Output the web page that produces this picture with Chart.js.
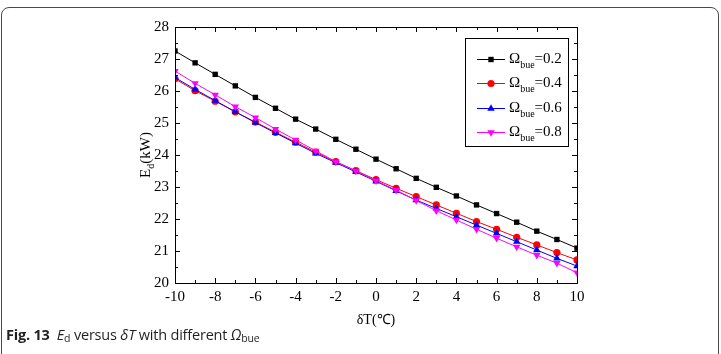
<!DOCTYPE html>
<html><head><meta charset="utf-8">
<script src="https://cdn.jsdelivr.net/npm/chart.js@4/dist/chart.umd.min.js"></script>
<style>
html,body{margin:0;padding:0;background:#fff;}
#wrap{position:relative;width:721px;height:354px;overflow:hidden;}
#frame{position:absolute;left:1px;top:7px;width:716px;height:400px;border:1.3px solid #4a4a4a;border-radius:8px;}
#c{position:absolute;left:0;top:0;}
#cap{position:absolute;left:6px;top:325px;font-family:"Open Sans","Noto Sans",sans-serif;font-size:14.5px;color:#231f20;letter-spacing:-0.2px;white-space:nowrap;}
#cap b{font-weight:700;}
#cap sub{font-size:10.5px;vertical-align:-2px;}
</style></head>
<body><div id="wrap"><div id="frame"></div><canvas id="c" width="721" height="354"></canvas>
<div id="cap"><b>Fig. 13</b>&nbsp; <i>E</i><sub>d</sub> versus <i>δT</i> with different <i>Ω</i><sub>bue</sub></div></div>
<script>
const deltaT = [-10,-9,-8,-7,-6,-5,-4,-3,-2,-1,0,1,2,3,4,5,6,7,8,9,10];
const omegaLabels = ["0.2","0.4","0.6","0.8"];
const ed02 = [27.25,26.88,26.52,26.16,25.80,25.46,25.12,24.81,24.49,24.18,23.87,23.57,23.27,22.99,22.72,22.44,22.17,21.90,21.62,21.36,21.09];
const ed04 = [26.38,26.01,25.68,25.35,25.03,24.71,24.40,24.09,23.79,23.51,23.23,22.96,22.70,22.44,22.18,21.92,21.68,21.43,21.19,20.95,20.72];
const ed06 = [26.42,26.05,25.70,25.35,25.01,24.69,24.37,24.05,23.76,23.47,23.18,22.88,22.59,22.33,22.07,21.81,21.55,21.29,21.03,20.77,20.53];
const ed08 = [26.62,26.24,25.88,25.51,25.17,24.81,24.47,24.13,23.79,23.50,23.20,22.90,22.58,22.26,21.97,21.68,21.40,21.13,20.87,20.62,20.32];
const xTicks = [-10,-8,-6,-4,-2,0,2,4,6,8,10];
const yTicks = [20,21,22,23,24,25,26,27,28];

const series = [ed02, ed04, ed06, ed08];
const colors = ['#000000','#ff0000','#0000ff','#ff00ff'];
const styles = ['rect','circle','triangle','triangle'];
const rots = [0,0,0,180];
const radii = [3.8,3.6,4.3,4.3];

const datasets = series.map((s,i)=>({
  label: 'Ωbue=' + omegaLabels[i],
  data: deltaT.map((x,j)=>({x:x, y:s[j]})),
  borderColor: colors[i], backgroundColor: colors[i],
  borderWidth: 1, pointStyle: styles[i], pointRotation: rots[i],
  pointRadius: radii[i], pointBorderWidth: 0, tension: 0,
  order: series.length - 1 - i
}));

const SERIF = '"Liberation Serif","Times New Roman",serif';

const framePlugin = {
  id: 'framePlugin',
  afterDraw(chart){
    const ctx = chart.ctx, a = chart.chartArea;
    const xs = chart.scales.x, ys = chart.scales.y;
    ctx.save();
    ctx.strokeStyle = '#000'; ctx.lineWidth = 1;
    ctx.strokeRect(Math.round(a.left)+0.5, Math.round(a.top)+0.5, Math.round(a.right-a.left), Math.round(a.bottom-a.top));
    ctx.beginPath();
    for (let v=-10; v<=10; v+=1){
      const px = Math.round(xs.getPixelForValue(v))+0.5;
      const L = (v%2===0)?5:3;
      ctx.moveTo(px,a.bottom); ctx.lineTo(px,a.bottom-L);
      ctx.moveTo(px,a.top); ctx.lineTo(px,a.top+L);
    }
    for (let v=20; v<=28; v+=0.5){
      const py = Math.round(ys.getPixelForValue(v))+0.5;
      const L = (Number.isInteger(v))?5:3;
      ctx.moveTo(a.left,py); ctx.lineTo(a.left+L,py);
      ctx.moveTo(a.right,py); ctx.lineTo(a.right-L,py);
    }
    ctx.stroke();

    // y title
    ctx.fillStyle = '#000';
    ctx.translate(146, (a.top+a.bottom)/2);
    ctx.rotate(-Math.PI/2);
    ctx.textBaseline = 'middle';
    ctx.font = '15px ' + SERIF;
    const w1 = ctx.measureText('E').width;
    ctx.font = '10px ' + SERIF;
    const w2 = ctx.measureText('d').width;
    ctx.font = '15px ' + SERIF;
    const w3 = ctx.measureText('(kW)').width;
    let x0 = -(w1+w2+w3)/2;
    ctx.textAlign='left';
    ctx.fillText('E', x0, 0);
    ctx.font = '10px ' + SERIF;
    ctx.fillText('d', x0+w1, 5);
    ctx.font = '15px ' + SERIF;
    ctx.fillText('(kW)', x0+w1+w2, 0);
    ctx.restore();

    // legend
    ctx.save();
    ctx.strokeStyle = '#000'; ctx.lineWidth = 1;
    ctx.strokeRect(465.5, 38.5, 103, 108);
    const ys2 = [59, 83, 108, 132];
    datasets.forEach((d,i)=>{
      const y = ys2[i];
      ctx.strokeStyle = d.borderColor; ctx.lineWidth = 1;
      ctx.beginPath(); ctx.moveTo(477,y+0.5); ctx.lineTo(505,y+0.5); ctx.stroke();
      ctx.fillStyle = d.backgroundColor;
      Chart.helpers.drawPoint(ctx, {pointStyle:d.pointStyle, rotation:d.pointRotation, radius:d.pointRadius, borderWidth:0}, 491, y+0.5);
      ctx.fillStyle = '#000';
      ctx.textBaseline = 'middle'; ctx.textAlign = 'left';
      ctx.font = '15px ' + SERIF;
      ctx.fillText('Ω', 509, y);
      const wo = ctx.measureText('Ω').width;
      ctx.font = '10px ' + SERIF;
      ctx.fillText('bue', 509+wo, y+6);
      const wb = ctx.measureText('bue').width;
      ctx.font = '15px ' + SERIF;
      ctx.fillText('=' + omegaLabels[i], 509+wo+wb, y);
    });
    ctx.restore();
  }
};

new Chart(document.getElementById('c'), {
  type: 'line',
  data: { datasets },
  options: {
    responsive: false, animation: false,
    layout: { padding: { left: 0, top: 27, right: 144, bottom: 0 } },
    plugins: { legend: { display: false }, tooltip: { enabled: false } },
    scales: {
      x: {
        type: 'linear', min: -10, max: 10,
        afterBuildTicks: s => { s.ticks = xTicks.map(v=>({value:v})); },
        afterFit: s => { s.height = 71; },
        grid: { display: false, drawTicks: false },
        border: { display: false },
        ticks: { color: '#000', font: { family: SERIF, size: 15 }, padding: 5, maxRotation: 0 },
        title: { display: true, text: 'δT(℃)', color: '#000', font: { family: SERIF, size: 14 }, padding: { top: 0, bottom: 25 } }
      },
      y: {
        type: 'linear', min: 20, max: 28,
        afterBuildTicks: s => { s.ticks = yTicks.map(v=>({value:v})); },
        afterFit: s => { s.width = 175; },
        grid: { display: false, drawTicks: false },
        border: { display: false },
        ticks: { color: '#000', font: { family: SERIF, size: 15 }, padding: 6 }
      }
    }
  },
  plugins: [framePlugin]
});
</script></body></html>
